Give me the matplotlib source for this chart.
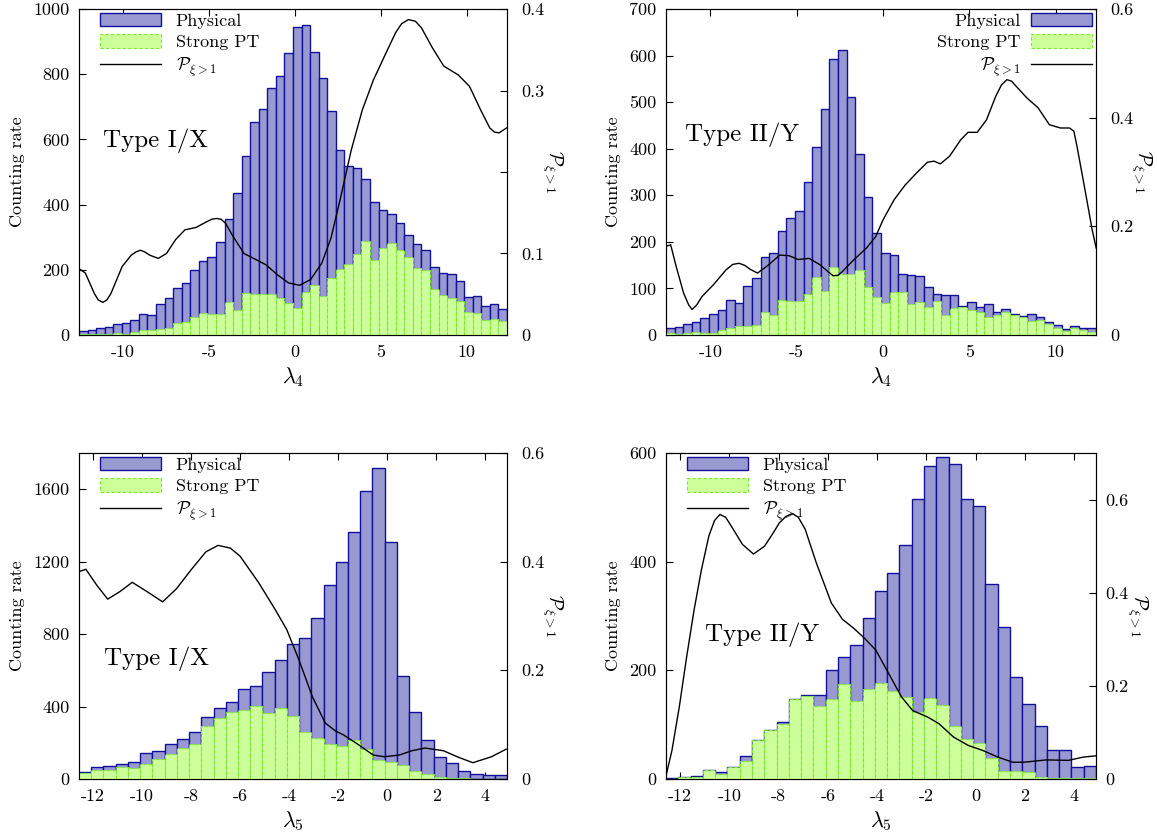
import numpy as np
import matplotlib
matplotlib.use("Agg")
import matplotlib.pyplot as plt
from matplotlib.patches import Patch
from matplotlib.lines import Line2D

plt.rcParams["font.family"] = "serif"
plt.rcParams["font.serif"] = ["cmr10", "DejaVu Serif"]
plt.rcParams["mathtext.fontset"] = "cm"
plt.rcParams["axes.unicode_minus"] = False
plt.rcParams["axes.formatter.use_mathtext"] = False

PHYS_FACE = "#9999d2"
PHYS_EDGE = "#10109a"
PT_FACE = "#ccff99"
PT_EDGE = "#77ee22"

# ---- top left: lambda_4, Type I/X ----
l4_range = (-12.57, 12.33)
tl_phys = [12, 15, 23, 24, 33, 36, 45, 65, 61, 94,
           113, 144, 158, 198, 228, 238, 285, 357, 436, 550,
           654, 694, 759, 795, 865, 944, 952, 867, 788, 687,
           568, 519, 513, 479, 407, 384, 371, 343, 308, 279,
           262, 208, 190, 187, 166, 117, 119, 89, 94, 79]
tl_pt = [2, 3, 3, 4, 5, 4, 10, 16, 16, 17,
         20, 36, 41, 56, 66, 64, 65, 100, 77, 130,
         125, 126, 125, 113, 97, 84, 131, 154, 120, 176,
         202, 218, 248, 287, 231, 267, 282, 262, 238, 206,
         200, 142, 122, 115, 104, 70, 68, 46, 49, 44]
tl_px = [-12.54, -12.2, -11.68, -11.45, -11.18, -10.95, -10.71, -10.06, -9.53, -9.25,
         -9.0, -8.75, -8.46, -7.96, -7.48, -6.95, -6.41, -5.76, -5.23, -4.85,
         -4.58, -4.3, -4.04, -3.61, -2.97, -2.32, -1.68, -1.03, -0.39, 0.26,
         0.9, 1.55, 2.09, 2.62, 3.27, 3.91, 4.56, 5.2, 5.85, 6.2,
         6.6, 7.0, 7.35, 8.0, 8.65, 9.5, 10.15, 10.8, 11.33, 11.6,
         11.87, 12.3]
tl_py = [0.081, 0.076, 0.051, 0.043, 0.040, 0.043, 0.051, 0.084, 0.098, 0.102,
         0.104, 0.102, 0.098, 0.094, 0.100, 0.117, 0.129, 0.132, 0.138, 0.142,
         0.143, 0.142, 0.137, 0.121, 0.100, 0.093, 0.086, 0.074, 0.064, 0.061,
         0.068, 0.088, 0.119, 0.166, 0.227, 0.276, 0.313, 0.342, 0.371, 0.382,
         0.387, 0.385, 0.377, 0.352, 0.330, 0.319, 0.305, 0.276, 0.254, 0.249,
         0.248, 0.254]

# ---- top right: lambda_4, Type II/Y ----
tr_phys = [16, 18, 24, 27, 36, 45, 54, 75, 69, 106,
           123, 167, 175, 224, 252, 266, 328, 403, 485, 593,
           612, 510, 389, 297, 218, 175, 172, 132, 129, 127,
           104, 88, 86, 85, 62, 70, 61, 66, 49, 55,
           45, 41, 45, 38, 27, 21, 12, 19, 16, 14]
tr_pt = [4, 3, 4, 6, 4, 4, 11, 14, 19, 19,
         21, 50, 43, 75, 72, 72, 87, 125, 95, 145,
         132, 132, 140, 102, 82, 69, 92, 93, 66, 70,
         61, 72, 44, 59, 61, 54, 50, 39, 44, 50,
         43, 39, 29, 33, 24, 16, 9, 14, 11, 7]
tr_px = [-12.58, -12.3, -11.98, -11.55, -11.25, -11.06, -10.8, -10.48, -9.84, -9.09,
         -8.7, -8.34, -8.0, -7.7, -7.27, -6.63, -5.99, -5.45, -4.92, -4.28,
         -3.64, -3.2, -2.89, -2.6, -2.35, -1.71, -0.96, -0.43, 0.0, 0.64,
         1.28, 1.93, 2.57, 2.95, 3.32, 3.85, 4.49, 4.92, 5.45, 5.99,
         6.52, 6.85, 7.17, 7.45, 7.7, 8.34, 8.98, 9.63, 10.27, 10.8,
         11.05, 11.23, 11.55, 11.87, 12.1, 12.34]
tr_py = [0.163, 0.166, 0.126, 0.077, 0.055, 0.047, 0.055, 0.071, 0.092, 0.120,
         0.130, 0.132, 0.128, 0.121, 0.114, 0.129, 0.147, 0.146, 0.139, 0.141,
         0.129, 0.117, 0.109, 0.110, 0.117, 0.138, 0.160, 0.181, 0.212, 0.249,
         0.276, 0.298, 0.318, 0.320, 0.315, 0.329, 0.359, 0.373, 0.373, 0.396,
         0.439, 0.460, 0.470, 0.467, 0.458, 0.436, 0.418, 0.387, 0.381, 0.381,
         0.375, 0.347, 0.292, 0.236, 0.195, 0.160]

# ---- bottom left: lambda_5, Type I/X ----
l5_range = (-12.57, 4.88)
bl_phys = [40, 68, 72, 81, 94, 142, 155, 193, 219, 258,
           344, 392, 427, 495, 514, 591, 657, 745, 777, 887,
           1071, 1200, 1362, 1588, 1719, 1310, 569, 372, 218, 120,
           91, 46, 28, 20, 22]
bl_pt = [31, 50, 50, 64, 61, 83, 109, 138, 171, 193,
         295, 337, 372, 381, 403, 363, 393, 348, 261, 228,
         193, 184, 215, 166, 107, 95, 77, 43, 28, 9,
         5, 3, 2, 2, 2]
bl_px = [-12.55, -12.29, -11.85, -11.4, -10.9, -10.4, -9.8, -9.16, -8.6, -8.0,
         -7.4, -6.9, -6.4, -6.0, -5.24, -4.56, -4.1, -3.6, -3.06, -2.53,
         -2.1, -1.78, -1.17, -0.57, -0.12, 0.48, 1.0, 1.54, 2.29, 2.9,
         3.49, 4.25, 4.85]
bl_py = [0.382, 0.386, 0.357, 0.331, 0.345, 0.362, 0.345, 0.326, 0.350, 0.385,
         0.418, 0.430, 0.425, 0.410, 0.361, 0.311, 0.275, 0.219, 0.152, 0.103,
         0.088, 0.081, 0.063, 0.044, 0.041, 0.044, 0.052, 0.057, 0.052, 0.040,
         0.030, 0.041, 0.055]

# ---- bottom right: lambda_5, Type II/Y ----
br_phys = [1, 4, 6, 17, 12, 23, 43, 71, 91, 105,
           148, 154, 155, 200, 225, 246, 297, 346, 380, 430,
           516, 576, 592, 580, 516, 503, 358, 279, 188, 138,
           98, 54, 54, 23, 24]
br_pt = [0, 3, 4, 17, 9, 23, 33, 71, 91, 102,
         148, 153, 135, 148, 175, 143, 166, 177, 162, 151,
         123, 150, 137, 98, 74, 67, 39, 15, 15, 12,
         3, 2, 1, 1, 1]
br_px = [-12.6, -12.33, -12.03, -11.73, -11.43, -11.13, -10.83, -10.6, -10.38, -10.15,
         -9.92, -9.47, -9.02, -8.57, -8.2, -7.97, -7.7, -7.44, -7.2, -6.92,
         -6.47, -5.86, -5.41, -4.96, -4.51, -4.06, -3.61, -3.01, -2.56, -1.95,
         -1.5, -0.9, -0.3, 0.3, 0.9, 1.5, 1.95, 2.86, 3.76, 4.36,
         4.92]
br_py = [0.0, 0.061, 0.155, 0.263, 0.363, 0.450, 0.522, 0.555, 0.568, 0.562,
         0.543, 0.504, 0.483, 0.500, 0.530, 0.550, 0.564, 0.570, 0.562, 0.536,
         0.464, 0.378, 0.343, 0.324, 0.302, 0.277, 0.234, 0.176, 0.147, 0.133,
         0.119, 0.090, 0.072, 0.061, 0.047, 0.036, 0.036, 0.041, 0.040, 0.047,
         0.050]

# right-axis tick labels as printed (the 0.2 label is hidden behind the axis title in the top-left panel)
tl_rlabels = ["0", "0.1", "", "0.3", "0.4"]

panels = [
    dict(rect=[79, 9, 507, 335], xr=l4_range, phys=tl_phys, pt=tl_pt, px=tl_px, py=tl_py,
         ymax=1000, yticks=[0, 200, 400, 600, 800, 1000], rmax=0.4, rticks=[0, 0.1, 0.2, 0.3, 0.4],
         rlabels=tl_rlabels,
         xticks=[-10, -5, 0, 5, 10], xlabel=r"$\lambda_4$", label="Type I/X", lxy=(-11.2, 595),
         legend_right=False, rpad=10),
    dict(rect=[666, 9, 1096, 335], xr=l4_range, phys=tr_phys, pt=tr_pt, px=tr_px, py=tr_py,
         ymax=700, yticks=[0, 100, 200, 300, 400, 500, 600, 700], rmax=0.6, rticks=[0, 0.2, 0.4, 0.6],
         rlabels=None,
         xticks=[-10, -5, 0, 5, 10], xlabel=r"$\lambda_4$", label="Type II/Y", lxy=(-11.45, 430),
         legend_right=True, rpad=10),
    dict(rect=[79, 453, 507, 779], xr=l5_range, phys=bl_phys, pt=bl_pt, px=bl_px, py=bl_py,
         ymax=1800, yticks=[0, 400, 800, 1200, 1600], rmax=0.6, rticks=[0, 0.2, 0.4, 0.6],
         rlabels=None,
         xticks=[-12, -10, -8, -6, -4, -2, 0, 2, 4], xlabel=r"$\lambda_5$", label="Type I/X",
         lxy=(-11.55, 665), legend_right=False, rpad=10),
    dict(rect=[666, 453, 1096, 779], xr=l5_range, phys=br_phys, pt=br_pt, px=br_px, py=br_py,
         ymax=600, yticks=[0, 200, 400, 600], rmax=0.7, rticks=[0, 0.2, 0.4, 0.6],
         rlabels=None,
         xticks=[-12, -10, -8, -6, -4, -2, 0, 2, 4], xlabel=r"$\lambda_5$", label="Type II/Y",
         lxy=(-11.0, 265), legend_right=False, rpad=7),
]

W, H = 1157, 835
fig = plt.figure(figsize=(W / 100, H / 100), dpi=100)

for p in panels:
    x0, y0, x1, y1 = p["rect"]
    ax = fig.add_axes([x0 / W, 1 - y1 / H, (x1 - x0) / W, (y1 - y0) / H])
    edges = np.linspace(p["xr"][0], p["xr"][1], len(p["phys"]) + 1)
    w = edges[1] - edges[0]
    ax.bar(edges[:-1], p["phys"], width=w, align="edge", color=PHYS_FACE,
           edgecolor=PHYS_EDGE, linewidth=1.0, zorder=2)
    ax.bar(edges[:-1], p["pt"], width=w, align="edge", color=PT_FACE,
           edgecolor=PT_EDGE, linewidth=0.8, linestyle=(0, (3, 2)), zorder=3)
    ax.set_xlim(*p["xr"])
    ax.set_ylim(0, p["ymax"])
    ax.set_xticks(p["xticks"])
    ax.set_yticks(p["yticks"])
    ax.tick_params(direction="in", top=True, right=False, labelsize=13, length=5, pad=7)
    ax.set_ylabel("Counting rate", fontsize=13, labelpad=6)
    ax.set_xlabel(p["xlabel"], fontsize=16, labelpad=4)
    ax.text(p["lxy"][0], p["lxy"][1], p["label"], fontsize=18, va="center", ha="left", zorder=5)

    ax2 = ax.twinx()
    ax2.plot(p["px"], p["py"], color="black", linewidth=1.0, zorder=4)
    ax2.set_ylim(0, p["rmax"])
    ax2.set_yticks(p["rticks"])
    rl = p["rlabels"] if p["rlabels"] is not None else [("%g" % t) for t in p["rticks"]]
    ax2.set_yticklabels(rl)
    ax2.tick_params(direction="in", labelsize=13, length=5, pad=p["rpad"])
    ax2.set_ylabel(r"$\mathcal{P}_{\xi>1}$", fontsize=14, rotation=270, labelpad=15)

    handles = [Patch(facecolor=PHYS_FACE, edgecolor=PHYS_EDGE, linewidth=1.0),
               Patch(facecolor=PT_FACE, edgecolor=PT_EDGE, linewidth=0.8, linestyle=(0, (3, 2))),
               Line2D([], [], color="black", linewidth=1.0)]
    labels = ["Physical", "Strong PT", r"$\mathcal{P}_{\xi>1}$"]
    if p["legend_right"]:
        ax2.legend(handles, labels, loc="upper right", frameon=False, fontsize=13,
                   markerfirst=False, handlelength=3.4, handleheight=0.8,
                   labelspacing=0.3, borderaxespad=0.1, borderpad=0.1, handletextpad=0.6)
    else:
        ax2.legend(handles, labels, loc="upper left", frameon=False, fontsize=13,
                   handlelength=3.4, handleheight=0.8,
                   labelspacing=0.3, borderaxespad=0.1, borderpad=0.1, handletextpad=0.8,
                   bbox_to_anchor=(0.04, 1.0))

fig.savefig("out.png", dpi=100)
